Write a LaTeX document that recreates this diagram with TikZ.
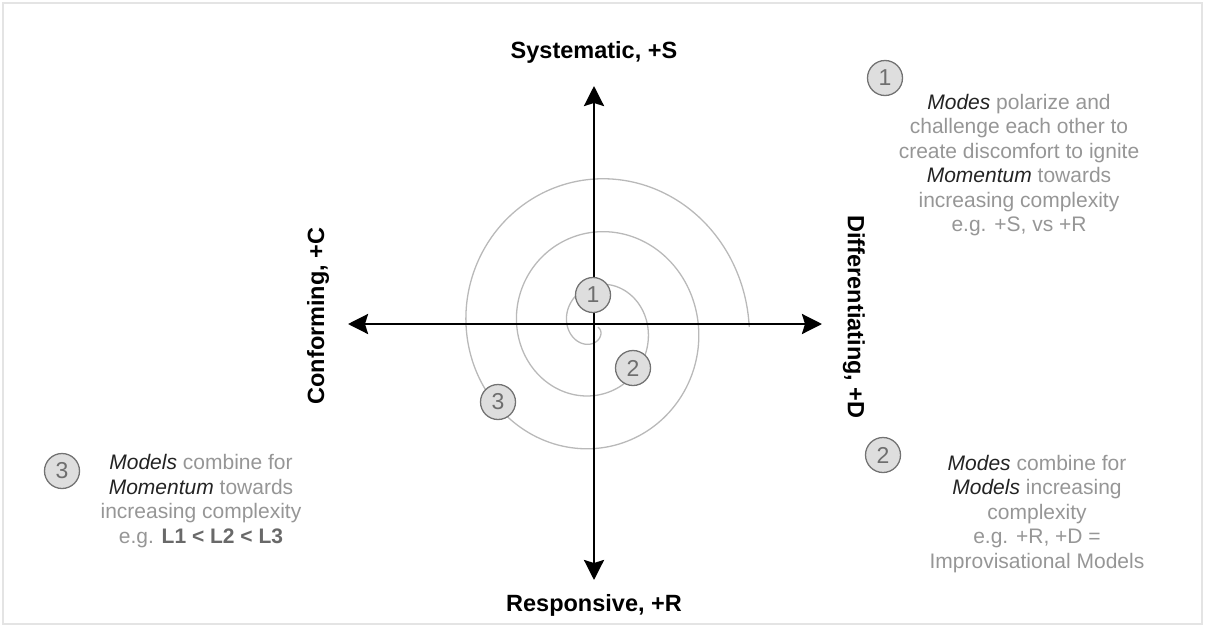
\documentclass[tikz,border=0pt]{standalone}
\usepackage{fontspec}
\setmainfont{Liberation Sans}
\usetikzlibrary{arrows.meta}

\definecolor{framegray}{RGB}{228,228,228}
\definecolor{spiralgray}{RGB}{185,185,185}
\definecolor{bodygray}{RGB}{150,150,150}
\definecolor{keyword}{RGB}{35,35,35}
\definecolor{badgefill}{RGB}{222,222,222}
\definecolor{badgeline}{RGB}{115,115,115}
\definecolor{badgetext}{RGB}{110,110,110}
\definecolor{examplegray}{RGB}{105,105,105}

\newcommand{\kw}[1]{\textcolor{keyword}{\itshape #1}}

\begin{document}
\begin{tikzpicture}[x=1pt,y=-1pt,
  axisline/.style={line width=2.7pt, black,
    {Stealth[length=20pt,width=20pt,inset=3pt]}-{Stealth[length=20pt,width=20pt,inset=3pt]}},
  axislabel/.style={font=\fontsize{23.5}{28}\selectfont\bfseries, text=black, inner sep=0pt},
  spiralline/.style={draw=spiralgray, line width=1.3pt},
  badge/.style={circle, fill=badgefill, draw=badgeline, line width=1.3pt,
    minimum size=35pt, inner sep=0pt, text=badgetext, font=\fontsize{23}{23}\selectfont},
  note/.style={align=center, text=bodygray, inner sep=0pt,
    font=\fontsize{21}{24.5}\selectfont}
]
\useasboundingbox (0,0) rectangle (1205,627);

% light frame around the figure
\draw[framegray, line width=2pt] (3,3) rectangle (1202,624);

% Archimedean spiral, winding outwards clockwise
\draw[spiralline] plot[domain=-85:990, samples=500, variable=\t, smooth]
  ({595+0.985*(15+0.143*\t)*cos(-90-\t)}, {327-1.03*(15+0.143*\t)*sin(-90-\t)});

% axes
\coordinate (W) at (348,324);
\coordinate (E) at (822,324);
\coordinate (N) at (594,86);
\coordinate (S) at (594,580);
\draw[axisline] (W) -- (E);
\draw[axisline] (S) -- (N);

% axis labels
\node[axislabel] (lblS) at (594,52) {Systematic, +S};
\node[axislabel] (lblR) at (594,605) {Responsive, +R};
\node[axislabel, rotate=90] (lblC) at (318,316) {Conforming, +C};
\node[axislabel, rotate=-90] (lblD) at (854,317) {Differentiating, +D};

% numbered markers on the spiral
\node[badge] (m1) at (593,295) {1};
\node[badge] (m2) at (633,368) {2};
\node[badge] (m3) at (498,402) {3};

% numbered notes
\node[badge] (k1) at (885,78) {1};
\node[note] (n1) at (1019,165) {\kw{Modes} polarize and\\challenge each other to\\create discomfort to ignite\\\kw{Momentum} towards\\increasing complexity\\e.g. +S, vs +R};

\node[badge] (k2) at (883,455) {2};
\node[note] (n2) at (1037,514) {\kw{Modes} combine for\\\kw{Models} increasing\\complexity\\e.g. +R, +D =\\Improvisational Models};

\node[badge] (k3) at (62,471) {3};
\node[note] (n3) at (201,501) {\kw{Models} combine for\\\kw{Momentum} towards\\increasing complexity\\e.g. \textcolor{examplegray}{\bfseries L1 < L2 < L3}};
\end{tikzpicture}
\end{document}
